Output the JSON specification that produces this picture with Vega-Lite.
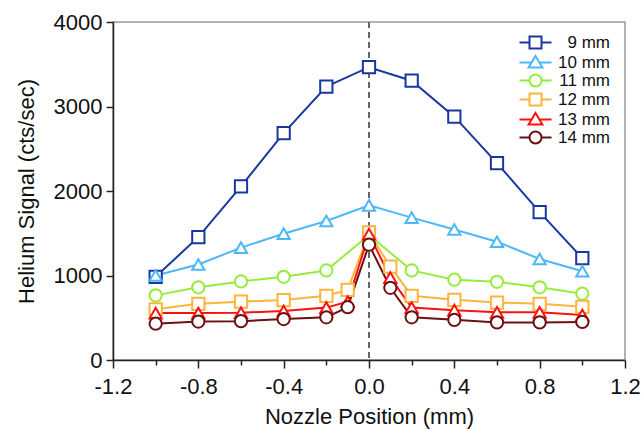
{
  "$schema": "https://vega.github.io/schema/vega-lite/v6.json",
  "autosize": "none",
  "width": 512,
  "height": 338,
  "padding": {"left": 113, "top": 22, "right": 18, "bottom": 69},
  "background": "white",
  "config": {
    "font": "Liberation Sans",
    "view": {"stroke": "#999999", "strokeWidth": 1.5},
    "axis": {"grid": false, "labelFont": "Liberation Sans", "titleFont": "Liberation Sans", "labelColor": "#111", "titleColor": "#111", "titleFontWeight": "normal", "domainColor": "#222", "tickColor": "#222", "domainWidth": 1.5, "tickWidth": 1.5}
  },
  "data": {
    "values": [
      {"s": "9 mm", "x": -1.0, "y": 985}, {"s": "9 mm", "x": -0.8, "y": 1455}, {"s": "9 mm", "x": -0.6, "y": 2055}, {"s": "9 mm", "x": -0.4, "y": 2685}, {"s": "9 mm", "x": -0.2, "y": 3235}, {"s": "9 mm", "x": 0.0, "y": 3465}, {"s": "9 mm", "x": 0.2, "y": 3305}, {"s": "9 mm", "x": 0.4, "y": 2880}, {"s": "9 mm", "x": 0.6, "y": 2330}, {"s": "9 mm", "x": 0.8, "y": 1750}, {"s": "9 mm", "x": 1.0, "y": 1205},
      {"s": "10 mm", "x": -1.0, "y": 1000}, {"s": "10 mm", "x": -0.8, "y": 1130}, {"s": "10 mm", "x": -0.6, "y": 1330}, {"s": "10 mm", "x": -0.4, "y": 1495}, {"s": "10 mm", "x": -0.2, "y": 1645}, {"s": "10 mm", "x": 0.0, "y": 1830}, {"s": "10 mm", "x": 0.2, "y": 1685}, {"s": "10 mm", "x": 0.4, "y": 1545}, {"s": "10 mm", "x": 0.6, "y": 1400}, {"s": "10 mm", "x": 0.8, "y": 1195}, {"s": "10 mm", "x": 1.0, "y": 1050},
      {"s": "11 mm", "x": -1.0, "y": 765}, {"s": "11 mm", "x": -0.8, "y": 860}, {"s": "11 mm", "x": -0.6, "y": 930}, {"s": "11 mm", "x": -0.4, "y": 985}, {"s": "11 mm", "x": -0.2, "y": 1060}, {"s": "11 mm", "x": 0.0, "y": 1480}, {"s": "11 mm", "x": 0.2, "y": 1060}, {"s": "11 mm", "x": 0.4, "y": 950}, {"s": "11 mm", "x": 0.6, "y": 925}, {"s": "11 mm", "x": 0.8, "y": 860}, {"s": "11 mm", "x": 1.0, "y": 785},
      {"s": "12 mm", "x": -1.0, "y": 600}, {"s": "12 mm", "x": -0.8, "y": 665}, {"s": "12 mm", "x": -0.6, "y": 690}, {"s": "12 mm", "x": -0.4, "y": 710}, {"s": "12 mm", "x": -0.2, "y": 760}, {"s": "12 mm", "x": -0.1, "y": 830}, {"s": "12 mm", "x": 0.0, "y": 1510}, {"s": "12 mm", "x": 0.1, "y": 1105}, {"s": "12 mm", "x": 0.2, "y": 760}, {"s": "12 mm", "x": 0.4, "y": 712}, {"s": "12 mm", "x": 0.6, "y": 680}, {"s": "12 mm", "x": 0.8, "y": 665}, {"s": "12 mm", "x": 1.0, "y": 630},
      {"s": "13 mm", "x": -1.0, "y": 555}, {"s": "13 mm", "x": -0.8, "y": 555}, {"s": "13 mm", "x": -0.6, "y": 560}, {"s": "13 mm", "x": -0.4, "y": 580}, {"s": "13 mm", "x": -0.2, "y": 620}, {"s": "13 mm", "x": -0.1, "y": 690}, {"s": "13 mm", "x": 0.0, "y": 1490}, {"s": "13 mm", "x": 0.1, "y": 975}, {"s": "13 mm", "x": 0.2, "y": 620}, {"s": "13 mm", "x": 0.4, "y": 590}, {"s": "13 mm", "x": 0.6, "y": 564}, {"s": "13 mm", "x": 0.8, "y": 564}, {"s": "13 mm", "x": 1.0, "y": 532},
      {"s": "14 mm", "x": -1.0, "y": 430}, {"s": "14 mm", "x": -0.8, "y": 455}, {"s": "14 mm", "x": -0.6, "y": 460}, {"s": "14 mm", "x": -0.4, "y": 485}, {"s": "14 mm", "x": -0.2, "y": 505}, {"s": "14 mm", "x": -0.1, "y": 625}, {"s": "14 mm", "x": 0.0, "y": 1365}, {"s": "14 mm", "x": 0.1, "y": 855}, {"s": "14 mm", "x": 0.2, "y": 505}, {"s": "14 mm", "x": 0.4, "y": 475}, {"s": "14 mm", "x": 0.6, "y": 445}, {"s": "14 mm", "x": 0.8, "y": 445}, {"s": "14 mm", "x": 1.0, "y": 450}
    ]
  },
  "encoding": {
    "x": {"field": "x", "type": "quantitative", "scale": {"domain": [-1.2, 1.2], "nice": false, "zero": false},
      "axis": {"title": "Nozzle Position (mm)", "titleFontSize": 22, "labelFontSize": 22, "values": [-1.2, -1.0, -0.8, -0.6, -0.4, -0.2, 0, 0.2, 0.4, 0.6, 0.8, 1.0, 1.2],
        "labelExpr": "round(datum.value*10) % 4 == 0 ? (datum.value < 0 ? '-' : '') + format(abs(datum.value), '.1f') : ''",
        "tickSize": {"condition": {"test": "round(datum.value*10) % 4 == 0", "value": 8}, "value": 5},
        "labelPadding": 8, "titlePadding": 9, "labelFlush": false, "labelOverlap": false}},
    "y": {"field": "y", "type": "quantitative", "scale": {"domain": [0, 4000], "nice": false},
      "axis": {"title": "Helium Signal (cts/sec)", "titleFontSize": 22, "labelFontSize": 22, "format": "d", "values": [0, 1000, 2000, 3000, 4000], "tickSize": 7, "labelPadding": 4, "titlePadding": 15, "labelFlush": false}}
  },
  "layer": [
    {
      "mark": {"type": "rule", "color": "#666666", "strokeWidth": 1.5, "strokeDash": [6, 4]},
      "encoding": {"x": {"datum": 0}, "y": null}
    },
    {
      "mark": {"type": "line", "strokeWidth": 2},
      "encoding": {
        "color": {"field": "s", "type": "nominal", "sort": null, "scale": {"domain": ["9 mm", "10 mm", "11 mm", "12 mm", "13 mm", "14 mm"], "range": ["#1838a0", "#4cb8fa", "#96ec3e", "#ffb43c", "#ff1010", "#6e1010"]}, "legend": null},
        "order": {"field": "x", "type": "quantitative"}
      }
    },
    {
      "mark": {"type": "point", "filled": false, "fill": "white", "strokeWidth": 2, "size": 150, "opacity": 1},
      "encoding": {
        "color": {"field": "s", "type": "nominal", "scale": {"domain": ["9 mm", "10 mm", "11 mm", "12 mm", "13 mm", "14 mm"], "range": ["#1838a0", "#4cb8fa", "#96ec3e", "#ffb43c", "#ff1010", "#6e1010"]}, "legend": null},
        "shape": {"field": "s", "type": "nominal", "scale": {"domain": ["9 mm", "10 mm", "11 mm", "12 mm", "13 mm", "14 mm"], "range": ["square", "triangle-up", "circle", "square", "triangle-up", "circle"]}, "legend": null}
      }
    },
    {
      "mark": {"type": "point", "filled": false, "strokeWidth": 2, "size": 144, "opacity": 0},
      "encoding": {
        "color": {"field": "s", "type": "nominal", "scale": {"domain": ["9 mm", "10 mm", "11 mm", "12 mm", "13 mm", "14 mm"], "range": ["#1838a0", "#4cb8fa", "#96ec3e", "#ffb43c", "#ff1010", "#6e1010"]},
          "legend": {"title": null, "orient": "none", "legendX": 404, "legendY": 12, "labelFontSize": 17, "labelFont": "Liberation Sans", "labelColor": "#111", "symbolSize": 144, "symbolStrokeWidth": 2, "symbolFillColor": "white", "symbolOpacity": 1, "symbolOffset": 10, "labelOffset": 66, "labelAlign": "right", "rowPadding": -2}},
        "shape": {"field": "s", "type": "nominal", "scale": {"domain": ["9 mm", "10 mm", "11 mm", "12 mm", "13 mm", "14 mm"], "range": [
          "M-2.67,0H-1M1,0H2.67M-1,-1H1V1H-1Z",
          "M-2.67,0H-0.67M0.67,0H2.67M0,-1.1L1.15,0.85H-1.15Z",
          "M-2.67,0H-1M1,0H2.67M1,0A1,1 0 1,1 -1,0A1,1 0 1,1 1,0Z",
          "M-2.67,0H-1M1,0H2.67M-1,-1H1V1H-1Z",
          "M-2.67,0H-0.67M0.67,0H2.67M0,-1.1L1.15,0.85H-1.15Z",
          "M-2.67,0H-1M1,0H2.67M1,0A1,1 0 1,1 -1,0A1,1 0 1,1 1,0Z"
        ]},
          "legend": {"title": null, "orient": "none", "legendX": 404, "legendY": 12, "labelFontSize": 17, "labelFont": "Liberation Sans", "labelColor": "#111", "symbolSize": 144, "symbolStrokeWidth": 2, "symbolFillColor": "white", "symbolOpacity": 1, "symbolOffset": 10, "labelOffset": 66, "labelAlign": "right", "rowPadding": -2}}
      }
    }
  ],
  "resolve": {"scale": {"color": "independent", "shape": "independent"}, "legend": {"color": "independent", "shape": "independent"}}
}
